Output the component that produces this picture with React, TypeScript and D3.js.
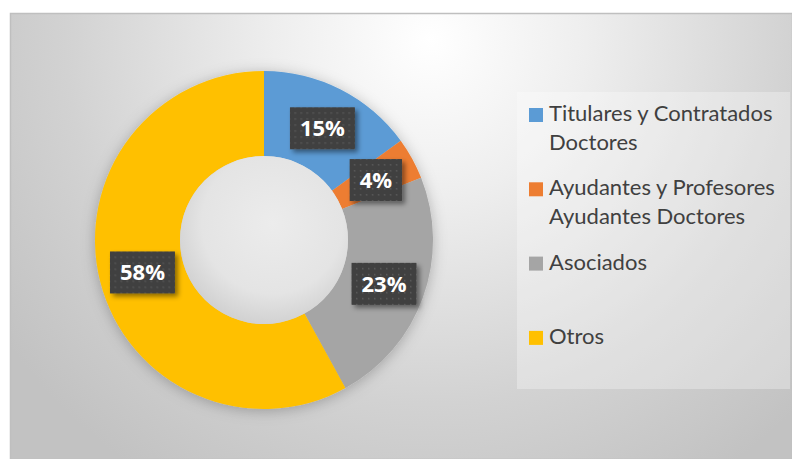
import React, { useRef, useEffect } from 'react';
import * as d3 from 'd3';

const categories = [
  'Titulares y Contratados Doctores',
  'Ayudantes y Profesores Ayudantes Doctores',
  'Asociados',
  'Otros',
];
const values = [15, 4, 23, 58];
const labels = ['15%', '4%', '23%', '58%'];
const colors = ['#5B9BD5', '#ED7D31', '#A5A5A5', '#FFC000'];

const W = 792;
const H = 459;

export default function App() {
  const svgRef = useRef<SVGSVGElement>(null);

  useEffect(() => {
    const svg = d3.select(svgRef.current);
    svg.selectAll('*').remove();

    const defs = svg.append('defs');

    const bg = defs.append('radialGradient')
      .attr('id', 'bg')
      .attr('gradientUnits', 'userSpaceOnUse')
      .attr('cx', 430).attr('cy', 40).attr('r', 520);
    bg.append('stop').attr('offset', 0).attr('stop-color', '#ffffff');
    bg.append('stop').attr('offset', 0.3).attr('stop-color', '#eeeeee');
    bg.append('stop').attr('offset', 0.7).attr('stop-color', '#d2d2d2');
    bg.append('stop').attr('offset', 1).attr('stop-color', '#c2c2c2');

    const hole = defs.append('radialGradient')
      .attr('id', 'hole')
      .attr('cx', 0.55).attr('cy', 0.4).attr('r', 0.6);
    hole.append('stop').attr('offset', 0).attr('stop-color', '#ececec');
    hole.append('stop').attr('offset', 0.7).attr('stop-color', '#e4e4e4');
    hole.append('stop').attr('offset', 1).attr('stop-color', '#d2d2d2');

    const ringShadow = defs.append('filter').attr('id', 'ringShadow')
      .attr('x', -0.2).attr('y', -0.2).attr('width', 1.4).attr('height', 1.4);
    ringShadow.append('feDropShadow')
      .attr('dx', 0).attr('dy', 2).attr('stdDeviation', 7)
      .attr('flood-color', '#000').attr('flood-opacity', 0.25);

    const boxShadow = defs.append('filter').attr('id', 'boxShadow')
      .attr('x', -0.3).attr('y', -0.3).attr('width', 1.6).attr('height', 1.6);
    boxShadow.append('feDropShadow')
      .attr('dx', 3).attr('dy', 3).attr('stdDeviation', 2.5)
      .attr('flood-color', '#000').attr('flood-opacity', 0.45);

    const dots = defs.append('pattern').attr('id', 'dots')
      .attr('patternUnits', 'userSpaceOnUse')
      .attr('width', 6).attr('height', 6);
    dots.append('rect').attr('width', 6).attr('height', 6).attr('fill', '#404040');
    dots.append('rect').attr('x', 2).attr('y', 2).attr('width', 1.5).attr('height', 1.5)
      .attr('fill', '#5a5a5a');

    // chart area
    svg.append('rect')
      .attr('x', 10.5).attr('y', 13.5)
      .attr('width', W - 10).attr('height', H - 13)
      .attr('fill', 'url(#bg)')
      .attr('stroke', '#bfbfbf').attr('stroke-width', 1.5);

    const cx = 264, cy = 240;
    const outer = 169, inner = 84;

    const pie = d3.pie<number>().sort(null).value(d => d);
    const arcs = pie(values);
    const arc = d3.arc<d3.PieArcDatum<number>>().innerRadius(inner).outerRadius(outer);

    const g = svg.append('g').attr('transform', `translate(${cx},${cy})`);

    g.append('g').attr('filter', 'url(#ringShadow)')
      .selectAll('path')
      .data(arcs)
      .join('path')
      .attr('d', arc)
      .attr('fill', (d, i) => colors[i]);

    g.append('circle').attr('r', inner).attr('fill', 'url(#hole)');

    // data labels
    const lab = g.selectAll('g.lab')
      .data(arcs)
      .join('g')
      .attr('class', 'lab')
      .attr('transform', d => {
        const [x, y] = arc.centroid(d);
        return `translate(${x + 1},${y + 1})`;
      });

    lab.each(function (d, i) {
      const el = d3.select(this);
      const box = el.append('rect');
      const t = el.append('text')
        .attr('text-anchor', 'middle')
        .attr('dy', '0.36em')
        .attr('fill', '#ffffff')
        .style('font-family', '"Open Sans", sans-serif')
        .style('font-weight', 700)
        .style('font-size', '22px')
        .text(labels[i]);
      const tw = (t.node() as SVGTextElement).getComputedTextLength();
      const bw = tw + 20, bh = 42;
      box.attr('x', -bw / 2).attr('y', -bh / 2)
        .attr('width', bw).attr('height', bh)
        .attr('fill', 'url(#dots)')
        .attr('filter', 'url(#boxShadow)');
    });

    // legend
    svg.append('rect')
      .attr('x', 517).attr('y', 92)
      .attr('width', 273).attr('height', 297)
      .attr('fill', '#ffffff').attr('fill-opacity', 0.3);

    const leg = svg.append('g');
    const rowStep = 74.3;
    categories.forEach((name, i) => {
      const base = 121 + i * rowStep;
      leg.append('rect')
        .attr('x', 529).attr('y', base - 13)
        .attr('width', 14).attr('height', 14)
        .attr('fill', colors[i]);
      const t = leg.append('text')
        .attr('x', 549).attr('y', base)
        .attr('fill', '#404040')
        .style('font-family', 'Lato, sans-serif')
        .style('font-size', '22px');
      const words = name.split(' ');
      let line: string[] = [];
      let tspan = t.append('tspan').attr('x', 549).attr('dy', 0);
      words.forEach(w => {
        line.push(w);
        tspan.text(line.join(' '));
        if ((tspan.node() as SVGTSpanElement).getComputedTextLength() > 236 && line.length > 1) {
          line.pop();
          tspan.text(line.join(' '));
          line = [w];
          tspan = t.append('tspan').attr('x', 549).attr('dy', 29).text(w);
        }
      });
    });
  }, []);

  return (
    <div style={{ position: 'absolute', left: 0, top: 0 }}>
      <svg ref={svgRef} width={W} height={H} style={{ display: 'block' }} />
    </div>
  );
}
